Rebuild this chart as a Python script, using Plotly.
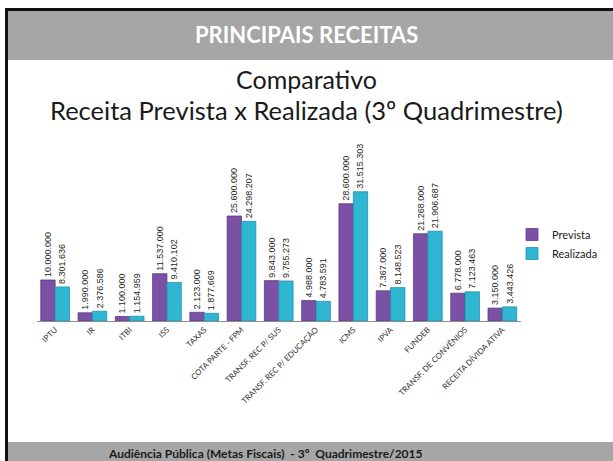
import plotly.graph_objects as go

W, H = 613, 461

categorias = ["IPTU", "IR", "ITBI", "ISS", "TAXAS", "COTA PARTE - FPM",
              "TRANSF. REC P/ SUS", "TRANSF. REC P/ EDUCAÇÃO", "ICMS", "IPVA",
              "FUNDEB", "TRANSF. DE CONVÊNIOS", "RECEITA DÍVIDA ATIVA"]
prevista = [10000000, 1990000, 1100000, 11537000, 2123000, 25600000,
            9843000, 4988000, 28600000, 7367000, 21268000, 6778000, 3150000]
realizada = [8301636, 2376586, 1154959, 9410102, 1877669, 24298207,
             9755273, 4783591, 31515303, 8148523, 21906687, 7123463, 3443426]

ROXO = "#7a51a5"
CIANO = "#2fb6d2"
CINZA = "#a6a6a6"
FONT = "Lato, 'Open Sans', sans-serif"


def fmt(v):
    return f"{v:,}".replace(",", ".")


def px_x(x):
    return x / W


def px_y(y):
    return 1 - y / H


fig = go.Figure()
for nome, vals, cor, borda in [("Prevista", prevista, ROXO, "#5e3d85"),
                               ("Realizada", realizada, CIANO, "#2391a8")]:
    fig.add_trace(go.Bar(
        name=nome, x=categorias, y=vals,
        marker=dict(color=cor, line=dict(color=borda, width=0.8)),
        text=[fmt(v) for v in vals],
        textposition="outside", textangle=-90,
        textfont=dict(family="Liberation Sans, Arial, sans-serif", size=9, color="#262626"),
        constraintext="none", cliponaxis=False,
    ))

shapes = [
    # moldura preta
    dict(type="rect", x0=px_x(5), x1=px_x(8), y0=px_y(461), y1=px_y(8),
         fillcolor="#111111", line=dict(width=0)),
    dict(type="rect", x0=px_x(5), x1=px_x(613), y0=px_y(11), y1=px_y(8),
         fillcolor="#111111", line=dict(width=0)),
    # faixa do cabeçalho
    dict(type="rect", x0=px_x(8), x1=px_x(613), y0=px_y(60), y1=px_y(11),
         fillcolor=CINZA, line=dict(width=0)),
    # faixa do rodapé
    dict(type="rect", x0=px_x(8), x1=px_x(613), y0=px_y(461), y1=px_y(442),
         fillcolor=CINZA, line=dict(width=0)),
]

annotations = [
    dict(text="<b>PRINCIPAIS RECEITAS</b>", x=px_x(307), y=px_y(35),
         font=dict(family=FONT, size=22, color="white")),
    dict(text="Comparativo", x=px_x(306), y=px_y(79),
         font=dict(family=FONT, size=25, color="#1a1a1a")),
    dict(text="Receita Prevista x Realizada (3º Quadrimestre)", x=px_x(306), y=px_y(110),
         font=dict(family=FONT, size=25.5, color="#1a1a1a")),
    dict(text="<b>Audiência Pública (Metas Fiscais)  - 3º  Quadrimestre/2015</b>",
         x=px_x(265), y=px_y(453),
         font=dict(family=FONT, size=12, color="#1a1a1a")),
]
for a in annotations:
    a.update(xref="paper", yref="paper", showarrow=False,
             xanchor="center", yanchor="middle")
for s in shapes:
    s.update(xref="paper", yref="paper", layer="below")

fig.update_layout(
    width=W, height=H,
    margin=dict(l=0, r=0, t=0, b=0, autoexpand=False),
    paper_bgcolor="white", plot_bgcolor="white",
    barmode="group", bargap=0.23, bargroupgap=0,
    shapes=shapes, annotations=annotations,
    xaxis=dict(domain=[px_x(36.5), px_x(521)], showgrid=False,
               showline=True, linecolor="#8c8c8c", linewidth=1,
               tickangle=-45, ticks="",
               tickfont=dict(family=FONT, size=8, color="#333333")),
    yaxis=dict(domain=[px_y(321), px_y(150)], range=[0, 41.7e6],
               visible=False, showgrid=False),
    legend=dict(x=px_x(512), y=px_y(220), xanchor="left", yanchor="top",
                font=dict(family=FONT, size=11, color="#1a1a1a"),
                itemwidth=30, tracegroupgap=2, bgcolor="rgba(0,0,0,0)"),
    showlegend=True,
)

# tira a margem padrão do <body> para o gráfico ocupar a janela inteira
fig.write_html("out.html", config={"displayModeBar": False},
               post_script="document.body.style.margin='0';document.body.style.overflow='hidden';")
